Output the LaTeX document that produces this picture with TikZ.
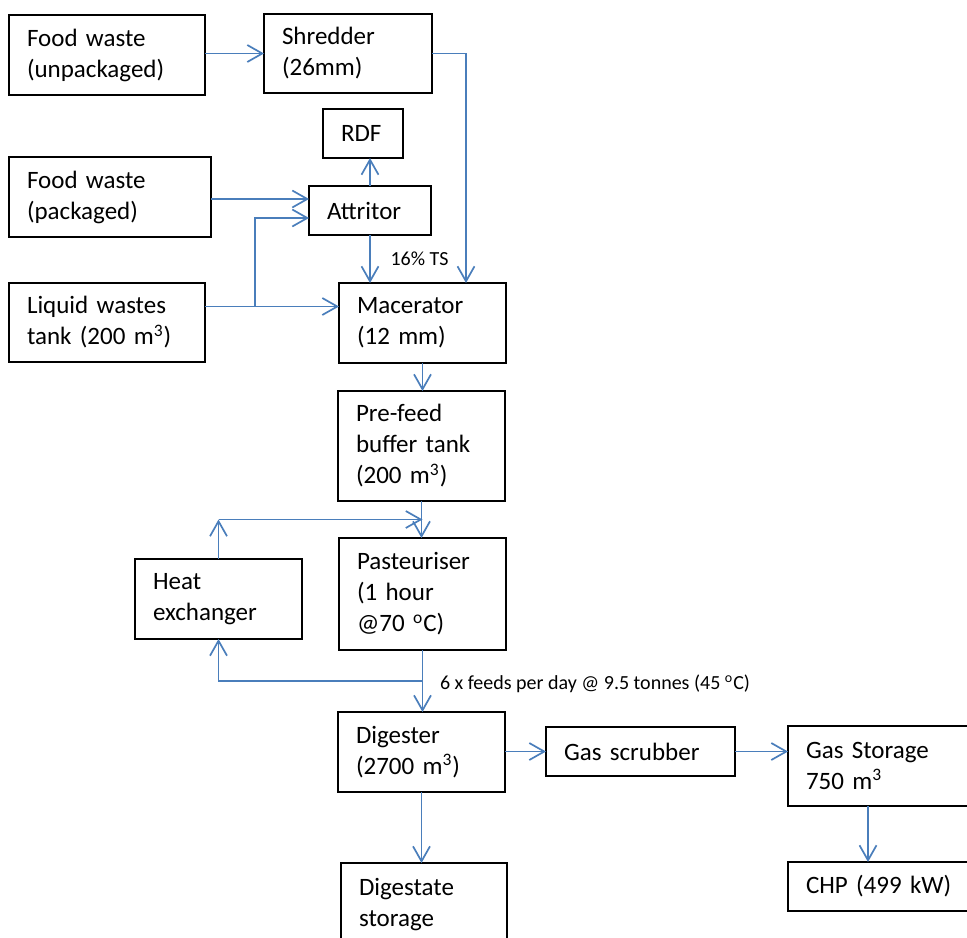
\documentclass[tikz,border=0pt]{standalone}
\usepackage{fontspec}
\setmainfont{Carlito}
\usetikzlibrary{arrows.meta,calc}
\definecolor{flowblue}{RGB}{74,126,187}

\begin{document}
\begin{tikzpicture}[x=0.5pt, y=-0.5pt, font=\fontsize{12.5}{15.5}\selectfont,
	box/.style 2 args={draw, line width=1pt, anchor=north west, align=left,
		inner xsep=9pt, inner ysep=0pt, outer sep=0pt, text width=#1, minimum height=#2},
	flow/.style={draw=flowblue, line width=0.85pt, -{Straight Barb[length=7.5pt,width=8.5pt]}},
	lbl/.style={font=\fontsize{10}{12}\selectfont}]
	\useasboundingbox (0,0) rectangle (967,937);
	\clip (0,0) rectangle (967,937);
	%inputs
	\node[box={80pt}{40pt}] (fwu) at (9,15) {Food waste\\(unpackaged)};
	\node[box={83pt}{40pt}] (fwp) at (9,157) {Food waste\\(packaged)};
	\node[box={80pt}{39.5pt}] (liq) at (9,283) {Liquid wastes\\tank (200 m\textsuperscript{3})};
	%pre-treatment
	\node[box={66pt}{39.5pt}] (shred) at (264,14) {Shredder\\(26mm)};
	\node[box={22pt}{24.5pt}] (rdf) at (323,109) {RDF};
	\node[box={43pt}{24.5pt}] (attr) at (309,186) {Attritor};
	\node[box={65.5pt}{40pt}] (mac) at (339,283) {Macerator\\(12 mm)};
	\node[box={65.5pt}{55pt}] (pre) at (338,391) {Pre-feed\\buffer tank\\(200 m\textsuperscript{3})};
	\node[box={65.5pt}{40pt}] (heat) at (135,559) {Heat\\exchanger};
	\node[box={65.5pt}{56pt}] (past) at (339,538) {Pasteuriser\\(1 hour\\@70 \textsuperscript{o}C)};
	%digestion and gas
	\node[box={65.5pt}{40pt}] (dig) at (338,712) {Digester\\(2700 m\textsuperscript{3})};
	\node[box={76.5pt}{24.5pt}] (scrub) at (546,727) {Gas scrubber};
	\node[box={82pt}{40pt}] (store) at (788,726) {Gas Storage\\750 m\textsuperscript{3}};
	\node[box={82pt}{24.5pt}] (chp) at (788,862) {CHP (499 kW)};
	\node[box={65pt}{42pt}] (dgs) at (341,863) {Digestate\\storage};
	%helper points
	\coordinate (split) at ($([yshift=8pt]liq.east)+(50,0)$);
	\coordinate (hup) at (heat.north |- {$(pre.south)!.5!(past.north)$});
	\coordinate (hdown) at ($(past.south)!.5!(dig.north)$);
	%connectors
	\draw[flow] (fwu.east |- shred.west) -- (shred.west);
	\draw[flow] (shred.east) -| ([xshift=-20pt]mac.north east);
	\draw[flow] (attr.north) -- (attr.north |- rdf.south);
	\draw[flow] ([yshift=-1pt]fwp.east) -- ([yshift=-1pt]fwp.east -| attr.west);
	\draw[flow] ([yshift=8pt]liq.east) -- ([yshift=8pt]liq.east -| mac.west);
	\draw[flow] (split) |- ([yshift=-3.75pt]attr.west);
	\draw[flow] (attr.south) -- (attr.south |- mac.north)
		node[lbl, midway, right=6.5pt] {16\% TS};
	\draw[flow] (mac.south) -- (mac.south |- pre.north);
	\draw[flow] (pre.south) -- (pre.south |- past.north);
	\draw[flow] (heat.north) -- (hup);
	\draw[flow] (hup) -- (hup -| past.north);
	\draw[flow] (past.south) -- (past.south |- dig.north)
		node[lbl, pos=.55, right=5pt] {6 x feeds per day @ 9.5 tonnes (45 \textsuperscript{o}C)};
	\draw[flow] (hdown) -| (heat.south);
	\draw[flow] (dig.east |- scrub.west) -- (scrub.west);
	\draw[flow] (scrub.east) -- (scrub.east -| store.west);
	\draw[flow] ([xshift=40pt]store.south west) -- ([xshift=40pt]store.south west |- chp.north);
	\draw[flow] (dig.south) -- (dig.south |- dgs.north);
\end{tikzpicture}
\end{document}
